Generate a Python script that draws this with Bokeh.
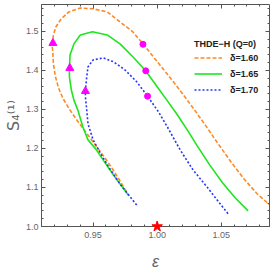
from bokeh.plotting import figure
from bokeh.models import (Legend, LegendItem, LinearAxis, SingleIntervalTicker,
                          NumeralTickFormatter, Range1d, CustomLabelingPolicy)
from bokeh.embed import file_html
from bokeh.resources import INLINE

# ---- data ----
orange_x = [0.976, 0.971, 0.965, 0.959, 0.953, 0.947, 0.9415, 0.936, 0.931, 0.9265,
            0.923, 0.9205, 0.919, 0.9185, 0.918, 0.919, 0.921, 0.925, 0.931, 0.940,
            0.950, 0.961, 0.970, 0.981, 0.989, 0.997, 1.008, 1.015, 1.021, 1.030,
            1.038, 1.048, 1.058, 1.068, 1.078, 1.088, 1.096]
orange_y = [1.089, 1.117, 1.148, 1.177, 1.203, 1.230, 1.254, 1.279, 1.303, 1.328,
            1.355, 1.385, 1.417, 1.447, 1.468, 1.491, 1.512, 1.532, 1.550, 1.560,
            1.558, 1.550, 1.527, 1.499, 1.468, 1.435, 1.390, 1.361, 1.335, 1.295,
            1.258, 1.210, 1.164, 1.121, 1.084, 1.055, 1.035]

green_x = [0.978, 0.967, 0.960, 0.952, 0.946, 0.942, 0.938, 0.935, 0.933, 0.9315,
           0.9315, 0.932, 0.935, 0.940, 0.9495, 0.961, 0.971, 0.981, 0.991, 1.000,
           1.008, 1.016, 1.024, 1.031, 1.041, 1.051, 1.061, 1.071]
green_y = [1.078, 1.127, 1.160, 1.199, 1.222, 1.255, 1.299, 1.324, 1.350, 1.383,
           1.409, 1.440, 1.468, 1.491, 1.499, 1.491, 1.468, 1.435, 1.399, 1.358,
           1.322, 1.285, 1.245, 1.208, 1.158, 1.112, 1.073, 1.040]

blue_x = [0.984, 0.971, 0.962, 0.956, 0.950, 0.946, 0.945, 0.944, 0.944, 0.945,
          0.946, 0.950, 0.958, 0.966, 0.975, 0.984, 0.9925, 1.001, 1.008, 1.018,
          1.028, 1.039, 1.048, 1.056]
blue_y = [1.055, 1.109, 1.153, 1.186, 1.222, 1.263, 1.299, 1.332, 1.350, 1.383,
          1.409, 1.427, 1.432, 1.422, 1.401, 1.371, 1.334, 1.294, 1.255, 1.196,
          1.145, 1.101, 1.063, 1.030]

deltas = ["1.60", "1.65", "1.70"]
arrow_x = [0.9186, 0.9318, 0.944]
arrow_y = [1.470, 1.406, 1.347]
dot_x = [0.9889, 0.9911, 0.9925]
dot_y = [1.467, 1.399, 1.334]
star_x = [1.0]
star_y = [1.0]

ORANGE = "#FF8A24"
GREEN = "#1EE61E"
BLUE = "#2636FF"
MAGENTA = "#FF00FF"
AXIS = "#555555"
TICKTXT = "#666666"

p = figure(frame_width=228, frame_height=222, output_backend="svg",
           toolbar_location=None,
           x_range=Range1d(0.9097, 1.0877), y_range=Range1d(1.0, 1.569),
           x_axis_location=None, y_axis_location=None,
           min_border_left=33, min_border_right=0, min_border_top=0,
           min_border_bottom=0)
p.xgrid.visible = False
p.ygrid.visible = False
p.outline_line_color = None
p.background_fill_color = "white"


def style(ax, labels):
    ax.axis_line_color = AXIS
    ax.axis_line_width = 1
    ax.major_tick_line_color = AXIS
    ax.minor_tick_line_color = AXIS
    ax.major_tick_in = 4
    ax.major_tick_out = 0
    ax.minor_tick_in = 2
    ax.minor_tick_out = 0
    if labels:
        ax.major_label_text_font = "Liberation Sans"
        ax.major_label_text_font_size = "9px"
        ax.major_label_text_color = TICKTXT
        ax.major_label_standoff = 4
        ax.axis_label_text_font = "Liberation Sans"
        ax.axis_label_text_color = "#666666"
        ax.axis_label_text_font_style = "normal"
    else:
        ax.major_label_policy = CustomLabelingPolicy(code="return new Set()")
        ax.major_label_standoff = 0
        ax.major_label_text_font_size = "1px"


xtick = SingleIntervalTicker(interval=0.05, num_minor_ticks=5)
ytick = SingleIntervalTicker(interval=0.1, num_minor_ticks=5)

bx = LinearAxis(ticker=xtick, formatter=NumeralTickFormatter(format="0.00"),
                axis_label="ε")
style(bx, True)
bx.axis_label_text_font_size = "16px"
bx.axis_label_text_font_style = "italic"
bx.axis_label_standoff = 12
bx.major_label_standoff = 5
p.add_layout(bx, "below")

ly = LinearAxis(ticker=ytick, formatter=NumeralTickFormatter(format="0.0"),
                axis_label="S₄⁽¹⁾")
style(ly, True)
ly.major_label_standoff = 3
ly.axis_label_text_font = "DejaVu Sans"
ly.axis_label_text_font_size = "16px"
ly.axis_label_standoff = 0
p.add_layout(ly, "left")

tx = LinearAxis(ticker=SingleIntervalTicker(interval=0.05, num_minor_ticks=5))
style(tx, False)
p.add_layout(tx, "above")
ry = LinearAxis(ticker=SingleIntervalTicker(interval=0.1, num_minor_ticks=5))
style(ry, False)
p.add_layout(ry, "right")

r_or = p.line(orange_x, orange_y, line_color=ORANGE, line_width=1.6, line_dash="4 2")
r_gr = p.line(green_x, green_y, line_color=GREEN, line_width=1.6)
r_bl = p.line(blue_x, blue_y, line_color=BLUE, line_width=1.6, line_dash="2 2")

p.scatter(arrow_x, arrow_y, marker="triangle", size=8, fill_color=MAGENTA,
          line_color=MAGENTA)
p.scatter(dot_x, dot_y, marker="circle", size=6, fill_color=MAGENTA,
          line_color=MAGENTA)
p.scatter(star_x, star_y, marker="star", size=11, fill_color="red",
          line_color="red", level="overlay")

legend = Legend(items=[LegendItem(label="δ=" + deltas[0], renderers=[r_or]),
                       LegendItem(label="δ=" + deltas[1], renderers=[r_gr]),
                       LegendItem(label="δ=" + deltas[2], renderers=[r_bl])],
                location=(153, 129), title="THDE−H (Q=0)")
legend.title_text_font = "Liberation Sans"
legend.title_text_font_size = "9px"
legend.title_text_font_style = "bold"
legend.title_text_color = "#222222"
legend.title_standoff = 1
legend.label_text_font = "Liberation Sans"
legend.label_text_font_size = "9px"
legend.label_text_font_style = "bold"
legend.label_text_color = "#222222"
legend.glyph_width = 28
legend.glyph_height = 15
legend.label_height = 15
legend.label_standoff = 8
legend.spacing = 1
legend.padding = 0
legend.margin = 0
legend.border_line_color = None
legend.background_fill_alpha = 0
p.add_layout(legend, "center")

open("out.html", "w").write(file_html(p, INLINE))
